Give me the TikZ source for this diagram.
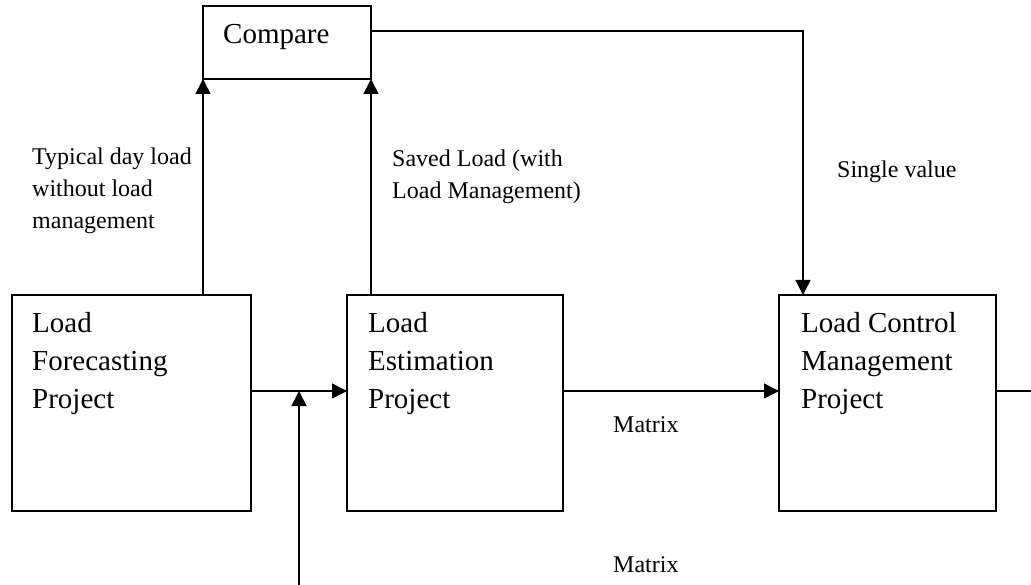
\documentclass[tikz,border=0pt]{standalone}
\usepackage{fontspec}
\setmainfont{Liberation Serif}
\usetikzlibrary{arrows.meta}
\tikzset{
  box/.style={draw, line width=1.5pt, inner sep=0pt, outer sep=0pt, anchor=north west},
  big/.style={font={\fontsize{29}{38}\selectfont}, align=left, anchor=base west, inner sep=0pt},
  small/.style={font={\fontsize{24}{31.7}\selectfont}, align=left, anchor=base west, inner sep=0pt},
  conn/.style={line width=1.5pt},
  arr/.style={conn, -{Triangle[length=15pt,width=15pt]}}
}
\begin{document}
\begin{tikzpicture}[x=1pt,y=-1pt]
\useasboundingbox (0,0) rectangle (1031,585);
% boxes
\node[box, minimum width=168pt, minimum height=73pt] (cmp) at (203,6) {};
\node[box, minimum width=239pt, minimum height=216pt] (lf) at (12,295) {};
\node[box, minimum width=216pt, minimum height=216pt] (le) at (347,295) {};
\node[box, minimum width=217pt, minimum height=216pt] (lc) at (779,295) {};
% box texts (anchor = baseline of the last line)
\node[big] (tcmp) at (223,44) {Compare};
\node[big] (tlf) at (32,408) {Load\\Forecasting\\Project};
\node[big] (tle) at (368,408) {Load\\Estimation\\Project};
\node[big] (tlc) at (801,408) {Load Control\\Management\\Project};
% labels
\node[small] (l1) at (32,228.4) {Typical day load\\without load\\management};
\node[small] (l2) at (392,198.7) {Saved Load (with\\Load Management)};
\node[small] (l3) at (837,178) {Single value};
\node[small] (l4) at (613,432) {Matrix};
\node[small] (l5) at (613,572) {Matrix};
% coordinates
\coordinate (turn) at (803,31);
\coordinate (j) at (299,391);
\coordinate (bot) at (299,585);
\coordinate (out) at (1031,391);
% connectors
\draw[arr] (cmp.south west |- lf.north) -- (cmp.south west);
\draw[arr] (cmp.south east |- le.north) -- (cmp.south east);
\draw[arr] (cmp.east |- turn) -- (turn) -- (turn |- lc.north);
\draw[arr] (lf.east |- j) -- (le.west |- j);
\draw[arr] (bot) -- (j);
\draw[arr] (le.east |- j) -- (lc.west |- j);
\draw[conn] (lc.east |- out) -- (out);
\end{tikzpicture}
\end{document}
